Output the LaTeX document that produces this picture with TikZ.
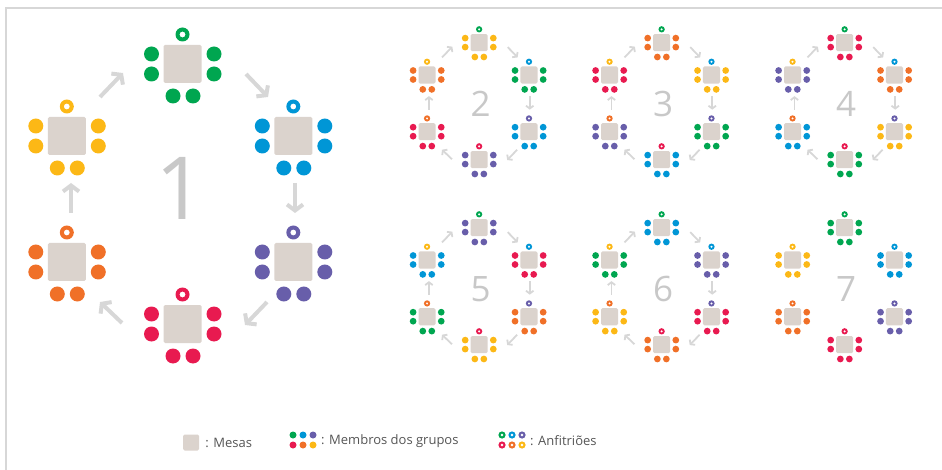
\documentclass[tikz,border=0pt]{standalone}
\usepackage{fontspec}
\setmainfont{Open Sans}
\usepackage{tikz}
\usetikzlibrary{arrows.meta,positioning}

\definecolor{verde}{RGB}{0,166,80}
\definecolor{azul}{RGB}{0,150,214}
\definecolor{roxo}{RGB}{104,94,170}
\definecolor{vermelho}{RGB}{232,26,80}
\definecolor{laranja}{RGB}{240,112,40}
\definecolor{amarelo}{RGB}{252,184,22}
\definecolor{cormesa}{RGB}{219,211,205}
\definecolor{corseta}{RGB}{215,215,215}
\definecolor{cornum}{RGB}{200,200,200}
\definecolor{cortexto}{RGB}{85,85,85}
\definecolor{cormoldura}{RGB}{215,215,215}

% uma mesa: nome, x, y, cor dos membros, cor do anfitriao
\newcommand{\mesa}[5]{%
  \node[mesa] (#1) at (#2,#3) {};
  \fill[#4] ({#2-31},{#3-10}) circle (7.5) ({#2-31},{#3+10}) circle (7.5)
            ({#2+31.5},{#3-10}) circle (7.5) ({#2+31.5},{#3+10}) circle (7.5)
            ({#2-9.5},{#3+32}) circle (7.5) ({#2+10.5},{#3+32}) circle (7.5);
  \fill[#5,even odd rule] (#2,{#3-29.5}) circle (7) circle (3);
}

% seis mesas de uma rodada: prefixo, membros em T, RT, RB, B, LB, LT
\newcommand{\roda}[7]{%
  \mesa{#1t}{2.5}{-132}{#2}{verde}
  \mesa{#1rt}{113.3}{-60}{#3}{azul}
  \mesa{#1rb}{113.3}{66}{#4}{roxo}
  \mesa{#1b}{2.5}{128}{#5}{vermelho}
  \mesa{#1lb}{-113.2}{66}{#6}{laranja}
  \mesa{#1lt}{-113.2}{-60}{#7}{amarelo}
}

% setas entre as mesas
\newcommand{\setas}[2]{%
  \draw[#2] (#1lt) ++(33.2,-39) -- ++(23,-24);
  \draw[#2] (#1t) ++(63.5,10) -- ++(22,23);
  \draw[#2] (#1rt) ++(1.7,47) -- ++(0,30);
  \draw[#2] (#1rb) ++(-26.3,40) -- ++(-22,23);
  \draw[#2] (#1b) ++(-60.5,-1) -- ++(-22,-21);
  \draw[#2] (#1lb) ++(4.2,-49) -- ++(0,-30);
}

\begin{document}
\begin{tikzpicture}[
    x=1pt,y=-1pt,
    mesa/.style={rectangle,fill=cormesa,rounded corners=1.5pt,minimum size=38pt,inner sep=0pt,transform shape},
    seta/.style={draw=corseta,line width=4pt,-{Straight Barb[length=6pt,width=16pt]}},
    setap/.style={draw=corseta,line width=1.8pt,-{Straight Barb[length=2.8pt,width=7.5pt]}},
    numero/.style={text=cornum,anchor=base,inner sep=0pt},
    legenda/.style={text=cortexto,font=\fontsize{13}{15}\selectfont,anchor=west,inner sep=0pt}
  ]
  \useasboundingbox (0,0) rectangle (942,470);
  \draw[cormoldura,line width=1.5pt] (6,470) -- (6,8) -- (942,8);

  % rodada 1
  \begin{scope}[shift={(180,196)}]
    \roda{r1}{verde}{azul}{roxo}{vermelho}{laranja}{amarelo}
    \setas{r1}{seta}
    \node[numero,font=\fontsize{87}{87}\selectfont] (r1num) at (0,24) {1};
  \end{scope}

  % rodadas 2 a 7
  \begin{scope}[shift={(478,102)},scale=0.45]
    \roda{r2}{amarelo}{verde}{azul}{roxo}{vermelho}{laranja}
    \setas{r2}{setap}
    \node[numero,font=\fontsize{35}{35}\selectfont] (r2num) at (6,32) {2};
  \end{scope}
  \begin{scope}[shift={(660.5,102)},scale=0.45]
    \roda{r3}{laranja}{amarelo}{verde}{azul}{roxo}{vermelho}
    \setas{r3}{setap}
    \node[numero,font=\fontsize{35}{35}\selectfont] (r3num) at (6,32) {3};
  \end{scope}
  \begin{scope}[shift={(843.5,102)},scale=0.45]
    \roda{r4}{vermelho}{laranja}{amarelo}{verde}{azul}{roxo}
    \setas{r4}{setap}
    \node[numero,font=\fontsize{35}{35}\selectfont] (r4num) at (6,32) {4};
  \end{scope}
  \begin{scope}[shift={(478,287)},scale=0.45]
    \roda{r5}{roxo}{vermelho}{laranja}{amarelo}{verde}{azul}
    \setas{r5}{setap}
    \node[numero,font=\fontsize{35}{35}\selectfont] (r5num) at (6,32) {5};
  \end{scope}
  \begin{scope}[shift={(660.5,287)},scale=0.45]
    \roda{r6}{azul}{roxo}{vermelho}{laranja}{amarelo}{verde}
    \setas{r6}{setap}
    \node[numero,font=\fontsize{35}{35}\selectfont] (r6num) at (6,32) {6};
  \end{scope}
  \begin{scope}[shift={(843.5,287)},scale=0.45]
    \roda{r7}{verde}{azul}{roxo}{vermelho}{laranja}{amarelo}
    \node[numero,font=\fontsize{35}{35}\selectfont] (r7num) at (6,32) {7};
  \end{scope}

  % legenda
  \node[mesa,minimum size=16pt] (legmesa) at (191,442.5) {};
  \node[legenda,right=6pt of legmesa] (txtmesa) {: Mesas};
  \fill[verde] (293,435) circle (3.5);
  \fill[azul] (303,435) circle (3.5);
  \fill[roxo] (313,435) circle (3.5);
  \fill[vermelho] (293,445) circle (3.5);
  \fill[laranja] (303,445) circle (3.5);
  \fill[amarelo] (313,445) circle (3.5);
  \node[legenda] (txtmembros) at (321,441) {: Membros dos grupos};
  \fill[verde,even odd rule] (502,435) circle (3.6) circle (1.6);
  \fill[azul,even odd rule] (512,435) circle (3.6) circle (1.6);
  \fill[roxo,even odd rule] (522,435) circle (3.6) circle (1.6);
  \fill[vermelho,even odd rule] (502,445) circle (3.6) circle (1.6);
  \fill[laranja,even odd rule] (512,445) circle (3.6) circle (1.6);
  \fill[amarelo,even odd rule] (522,445) circle (3.6) circle (1.6);
  \node[legenda] (txtanfitrioes) at (530,441) {: Anfitriões};
\end{tikzpicture}
\end{document}
